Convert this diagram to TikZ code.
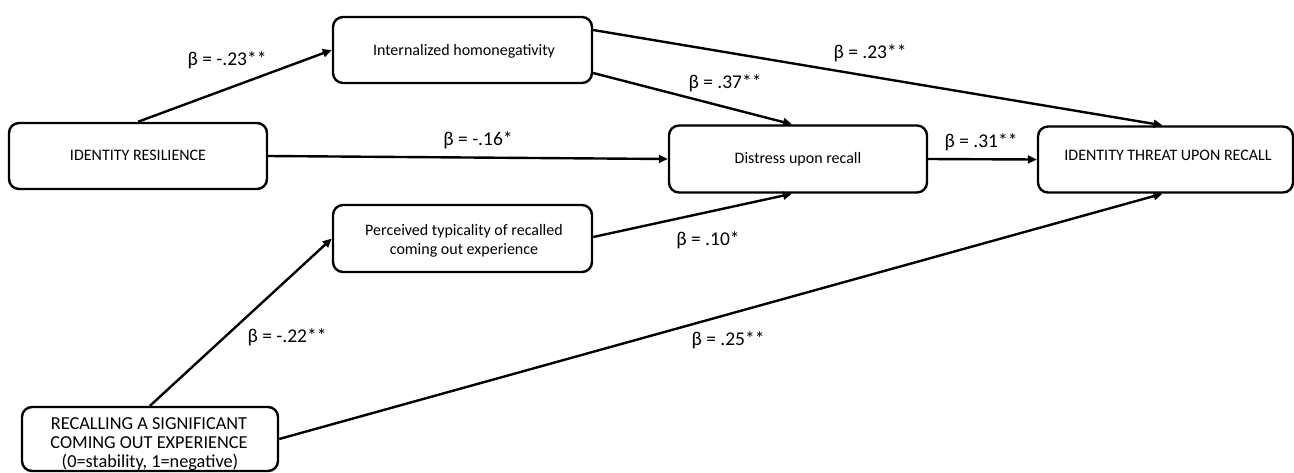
\documentclass[tikz,border=0pt]{standalone}
\usepackage{fontspec}
\setmainfont{Carlito}
\usetikzlibrary{arrows.meta}
\begin{document}
\begin{tikzpicture}[x=1pt,y=-1pt,
  box/.style={draw,line width=2.4pt,rounded corners=10pt,inner sep=0pt},
  txt/.style={anchor=base,inner sep=0pt,font=\fontsize{16}{19.5}\selectfont},
  bigtxt/.style={anchor=base,inner sep=0pt,font=\fontsize{18.3}{19.5}\selectfont},
  conn/.style={line width=2.4pt,-{Triangle[length=9pt,width=8pt]}},
  coef/.style={font=\fontsize{19.5}{23}\selectfont,inner sep=0pt}]
\useasboundingbox (0,0) rectangle (1294,472);
% boxes
\node[box,minimum width=259pt,minimum height=66pt] (ih) at (462.5,50) {};
\node[box,minimum width=258pt,minimum height=66pt] (ir) at (138,156) {};
\node[box,minimum width=258pt,minimum height=67pt] (dist) at (798,159) {};
\node[box,minimum width=255pt,minimum height=66pt] (thr) at (1165.5,159.5) {};
\node[box,minimum width=259pt,minimum height=67pt] (perc) at (462.5,238.5) {};
\node[box,minimum width=256pt,minimum height=64pt] (rec) at (150,439) {};
% box texts
\node[txt] (tih) at (464,55) {Internalized homonegativity};
\node[txt] (tir) at (138,160) {IDENTITY RESILIENCE};
\node[txt] (tdist) at (798,163) {Distress upon recall};
\node[txt] (tthr) at (1168,160.5) {IDENTITY THREAT UPON RECALL};
\node[txt] (tperc1) at (464,235) {Perceived typicality of recalled};
\node[txt] (tperc2) at (464,254) {coming out experience};
\node[bigtxt] (trec1) at (149,429) {RECALLING A SIGNIFICANT};
\node[bigtxt] (trec2) at (149,448) {COMING OUT EXPERIENCE};
\node[bigtxt] (trec3) at (150,467.5) {(0=stability, 1=negative)};
% connectors
\draw[conn] (ir.north) -- (ih.west);
\draw[conn] ([yshift=20pt]ih.east) -- ([xshift=-3pt]thr.north);
\draw[conn] ([yshift=-23pt]ih.east) -- ([xshift=-6pt]dist.north);
\draw[conn] (ir.east) -- (dist.west);
\draw[conn] (dist.east) -- (thr.west);
\draw[conn] ([yshift=1.5pt]perc.east) -- ([xshift=-6pt]dist.south);
\draw[conn] (rec.north) -- (perc.west);
\draw[conn] (rec.east) -- ([xshift=-3pt]thr.south);
% coefficients
\node[coef] (l1) at (227,60) {β = -.23**};
\node[coef] (l2) at (870,53) {β = .23**};
\node[coef] (l3) at (725,83) {β = .37**};
\node[coef] (l4) at (478,140) {β = -.16*};
\node[coef] (l5) at (981,142) {β = .31**};
\node[coef] (l6) at (708,240) {β = .10*};
\node[coef] (l7) at (287,337) {β = -.22**};
\node[coef] (l8) at (728,340) {β = .25**};
\end{tikzpicture}
\end{document}
